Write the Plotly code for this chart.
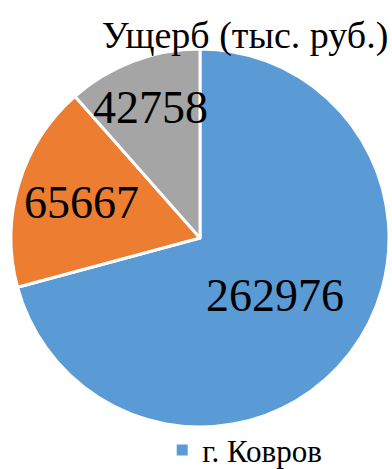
import plotly.graph_objects as go

labels = ["г. Ковров", "Слайс 2", "Слайс 3"]
values = [262976, 65667, 42758]
colors = ["#5B9BD5", "#ED7D31", "#A5A5A5"]
title_text = "Ущерб (тыс. руб.)"
font_family = "Liberation Serif"

fig = go.Figure()
fig.add_trace(go.Pie(
    labels=labels, values=values, sort=False, direction="clockwise", rotation=0,
    marker=dict(colors=colors, line=dict(color="white", width=3)),
    textinfo="value", texttemplate="%{value:d}", textposition="inside",
    insidetextorientation="horizontal",
    textfont=dict(family=font_family, size=46, color="black"),
    insidetextfont=dict(family=font_family, size=46, color="black"),
    showlegend=False, hoverinfo="label+value",
))
fig.add_trace(go.Scatter(
    x=[None], y=[None], mode="markers", name=labels[0],
    marker=dict(symbol="square", size=11, color=colors[0]), showlegend=True,
))
fig.update_layout(
    width=392, height=469,
    margin=dict(l=11, r=3, t=49, b=42, autoexpand=False),
    paper_bgcolor="white", plot_bgcolor="white",
    font=dict(family=font_family, color="black"),
    uniformtext=dict(minsize=44, mode="show"),
    title=dict(text=title_text, x=0.625, xanchor="center", y=0.925, yanchor="middle",
               font=dict(family=font_family, size=38, color="black")),
    legend=dict(orientation="h", x=0.40, xanchor="left", yref="container", y=0.04, yanchor="middle",
                font=dict(family=font_family, size=31, color="black"),
                itemwidth=30, bgcolor="rgba(0,0,0,0)"),
    xaxis=dict(visible=False), yaxis=dict(visible=False),
)
fig.write_html("out.html")
